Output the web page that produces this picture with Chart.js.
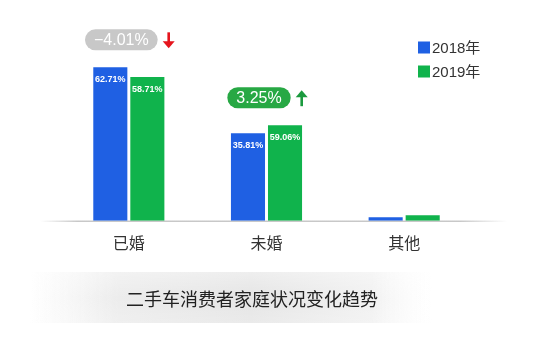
<!DOCTYPE html>
<html>
<head>
<meta charset="utf-8">
<script src="https://cdn.jsdelivr.net/npm/chart.js@4/dist/chart.umd.min.js"></script>
<style>
html,body{margin:0;padding:0;background:#fff;}
#wrap{position:relative;width:553px;height:359px;}
</style>
</head>
<body>
<div id="wrap"><canvas id="c" width="553" height="359"></canvas></div>
<script>
// ---- data ----
const categories = ["已婚", "未婚", "其他"];
const seriesNames = ["2018年", "2019年"];
const values2018 = [62.71, 35.81, 1.48];
const values2019 = [58.71, 39.06, 2.23];
const labels2018 = ["62.71%", "35.81%", ""];
const labels2019 = ["58.71%", "59.06%", ""];
const changeLabels = ["\u22124.01%", "3.25%", ""];
const changeDirections = ["down", "up", ""];
const chartTitle = "二手车消费者家庭状况变化趋势";

const BLUE = "#1f60e3";
const GREEN = "#10b34c";
const CJK = '"Noto Sans CJK SC", "Liberation Sans", sans-serif';
const LAT = '"Liberation Sans", Arial, sans-serif';

const decorPlugin = {
  id: "decor",
  beforeDatasetsDraw(chart) {
    const ctx = chart.ctx;
    const y = chart.scales.y.getPixelForValue(0) + 0.5;
    const g = ctx.createLinearGradient(40, 0, 507, 0);
    g.addColorStop(0, "rgba(200,200,200,0)");
    g.addColorStop(0.08, "rgba(200,200,200,1)");
    g.addColorStop(0.9, "rgba(200,200,200,1)");
    g.addColorStop(1, "rgba(200,200,200,0)");
    ctx.save();
    ctx.strokeStyle = g;
    ctx.lineWidth = 1.5;
    ctx.beginPath();
    ctx.moveTo(40, y);
    ctx.lineTo(507, y);
    ctx.stroke();
    ctx.restore();
  },
  afterDatasetsDraw(chart) {
    const ctx = chart.ctx;
    const m0 = chart.getDatasetMeta(0).data;
    const m1 = chart.getDatasetMeta(1).data;
    const lbls = [labels2018, labels2019];
    ctx.save();
    ctx.fillStyle = "#ffffff";
    ctx.font = "bold 9px " + LAT;
    ctx.textAlign = "center";
    ctx.textBaseline = "middle";
    [m0, m1].forEach((meta, di) => {
      meta.forEach((bar, i) => {
        const t = lbls[di][i];
        if (t) ctx.fillText(t, bar.x, bar.y + 12.5);
      });
    });
    ctx.restore();

    categories.forEach((c, i) => {
      const t = changeLabels[i];
      if (!t) return;
      const cx = (m0[i].x + m1[i].x) / 2;
      const topBar = Math.min(m0[i].y, m1[i].y);
      const up = changeDirections[i] === "up";
      const fill = up ? "#27a844" : "#c8c8c8";
      const arrowCol = up ? "#1b9a3e" : "#e5151d";
      ctx.save();
      ctx.font = "16px " + LAT;
      const tw = ctx.measureText(t).width;
      const pw = tw + 18, ph = 21;
      const unitW = pw + 17;
      const px = cx - unitW / 2 + 1;
      const pb = topBar - 17;
      const py = pb - ph;
      ctx.fillStyle = fill;
      ctx.beginPath();
      ctx.roundRect(px, py, pw, ph, ph / 2);
      ctx.fill();
      ctx.fillStyle = "#ffffff";
      ctx.textAlign = "center";
      ctx.textBaseline = "middle";
      ctx.fillText(t, px + pw / 2, py + ph / 2 + 1);
      const ax = px + pw + 11;
      const at = py + 3, ab = py + ph - 2;
      ctx.strokeStyle = arrowCol;
      ctx.fillStyle = arrowCol;
      ctx.lineWidth = 2.6;
      ctx.beginPath();
      if (up) {
        ctx.moveTo(ax, ab); ctx.lineTo(ax, at + 6); ctx.stroke();
        ctx.beginPath();
        ctx.moveTo(ax - 6, at + 7); ctx.lineTo(ax, at); ctx.lineTo(ax + 6, at + 7); ctx.closePath(); ctx.fill();
      } else {
        ctx.moveTo(ax, at); ctx.lineTo(ax, ab - 6); ctx.stroke();
        ctx.beginPath();
        ctx.moveTo(ax - 6, ab - 7); ctx.lineTo(ax, ab); ctx.lineTo(ax + 6, ab - 7); ctx.closePath(); ctx.fill();
      }
      ctx.restore();
    });

    ctx.save();
    ctx.textBaseline = "middle";
    chart.data.datasets.forEach((ds, i) => {
      const ly = 47.5 + i * 24;
      ctx.fillStyle = ds.backgroundColor;
      ctx.fillRect(418, ly - 6, 12, 12);
      ctx.fillStyle = "#333333";
      const num = ds.label.replace("年", "");
      ctx.font = "15px " + LAT;
      ctx.fillText(num, 432, ly + 1);
      const w = ctx.measureText(num).width;
      ctx.font = "15px " + CJK;
      ctx.fillText("年", 432 + w, ly);
    });
    ctx.restore();

    ctx.save();
    const bg = ctx.createLinearGradient(30, 0, 432, 0);
    bg.addColorStop(0, "rgba(238,238,238,0)");
    bg.addColorStop(0.22, "rgba(236,236,236,1)");
    bg.addColorStop(0.55, "rgba(229,229,229,1)");
    bg.addColorStop(0.85, "rgba(241,241,241,1)");
    bg.addColorStop(1, "rgba(250,250,250,0)");
    ctx.fillStyle = bg;
    ctx.fillRect(30, 272, 402, 51);
    const vg = ctx.createLinearGradient(0, 272, 0, 323);
    vg.addColorStop(0, "rgba(255,255,255,0.35)");
    vg.addColorStop(0.5, "rgba(255,255,255,0)");
    vg.addColorStop(1, "rgba(255,255,255,0.2)");
    ctx.fillStyle = vg;
    ctx.fillRect(30, 272, 402, 51);
    ctx.fillStyle = "#222222";
    ctx.font = "18px " + CJK;
    ctx.textAlign = "center";
    ctx.textBaseline = "middle";
    ctx.fillText(chartTitle, 252, 299);
    ctx.restore();
  }
};

new Chart(document.getElementById("c"), {
  type: "bar",
  data: {
    labels: categories,
    datasets: [
      { label: seriesNames[0], data: values2018, backgroundColor: BLUE },
      { label: seriesNames[1], data: values2019, backgroundColor: GREEN }
    ]
  },
  options: {
    responsive: false,
    animation: false,
    devicePixelRatio: 1,
    layout: { padding: { left: 60, right: 80, top: 25, bottom: 101 } },
    datasets: { bar: { categoryPercentage: 0.538, barPercentage: 0.92 } },
    plugins: { legend: { display: false }, tooltip: { enabled: false }, title: { display: false } },
    scales: {
      x: {
        grid: { display: false },
        border: { display: false },
        ticks: { color: "#333333", font: { size: 16, family: CJK }, padding: 5 }
      },
      y: { display: false, min: 0, max: 80 }
    }
  },
  plugins: [decorPlugin]
});
</script>
</body>
</html>
